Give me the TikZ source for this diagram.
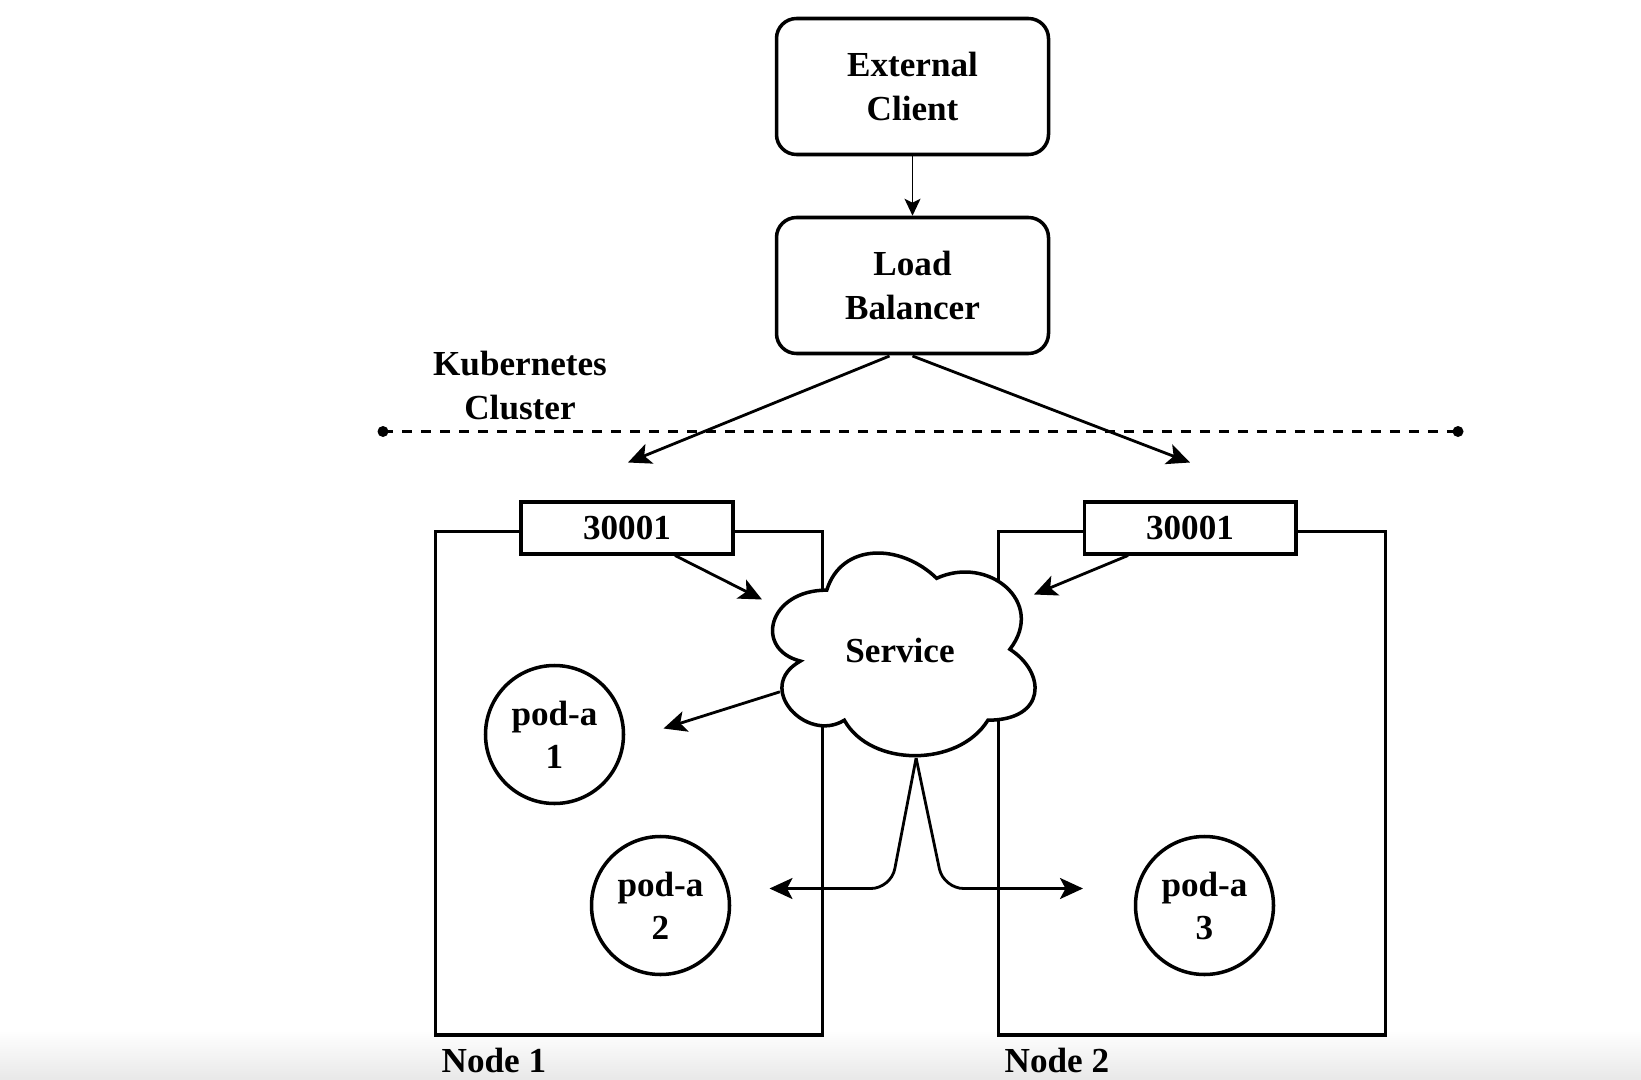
\documentclass[tikz,border=0pt]{standalone}
\usepackage{fontspec}
\setmainfont{Liberation Serif}
\usetikzlibrary{arrows.meta,calc,positioning}

\tikzset{
  box/.style={draw, line width=2pt, rounded corners=0.4cm, minimum width=5.44cm, minimum height=2.72cm, align=center, fill=white},
  port/.style={draw, line width=2pt, minimum width=4.23cm, minimum height=1.03cm, inner sep=0pt, fill=white},
  pod/.style={draw, circle, line width=2pt, minimum size=2.76cm, inner sep=0pt, align=center},
  host/.style={draw, line width=2pt, minimum width=7.74cm, minimum height=10.07cm, anchor=north west},
  flow/.style={line width=1.6pt, -{Stealth[length=0.46cm, width=0.42cm, inset=0.11cm]}},
  thinflow/.style={line width=1pt, -{Stealth[length=0.34cm, width=0.32cm, inset=0.08cm]}},
}

\begin{document}
\begin{tikzpicture}[font=\fontsize{20}{24.5}\selectfont\bfseries]
	\useasboundingbox (0,0) rectangle (32.82,-21.6);
	\shade[top color=white, bottom color=black!9] (0,-20.6) rectangle (32.82,-21.6);

	% outside the cluster
	\node[box] (client) at (18.25,-1.73) {External\\Client};
	\node[box] (lb) at (18.25,-5.71) {Load\\Balancer};
	\draw[thinflow] (client.south) -- (lb.north);

	% cluster border
	\coordinate (borderw) at (7.66,-8.63);
	\coordinate (bordere) at (29.16,-8.63);
	\draw[line width=1.7pt, dash pattern=on 0.2cm off 0.18cm] (borderw) -- (bordere);
	\fill (borderw) circle (0.11) (bordere) circle (0.11);
	\node[align=center] (cluster) at (10.40,-7.71) {Kubernetes\\Cluster};

	% worker nodes
	\node[host] (host1) at (8.67,-10.59) {};
	\node[host] (host2) at (19.93,-10.59) {};
	\node[anchor=west] (host1label) at ($(host1.south west)+(0.04,-0.48)$) {Node 1};
	\node[anchor=west] (host2label) at ($(host2.south west)+(0.04,-0.48)$) {Node 2};

	% service cloud
	\begin{scope}[shift={(15.07,-10.62)}, x=5.86cm, y=-4.73cm]
		\draw[fill=white, line width=2pt] (0.25,0.25)
		.. controls (0.05,0.25) and (0,0.5) .. (0.16,0.55)
		.. controls (0,0.66) and (0.18,0.9) .. (0.31,0.8)
		.. controls (0.4,1) and (0.7,1) .. (0.8,0.8)
		.. controls (1,0.8) and (1,0.6) .. (0.875,0.5)
		.. controls (1,0.3) and (0.8,0.1) .. (0.625,0.2)
		.. controls (0.5,0.05) and (0.3,0.05) .. (0.25,0.25) -- cycle;
		\coordinate (cloudbottom) at (0.555,0.96);
		\coordinate (cloudleft) at (0.09,0.68);
	\end{scope}
	\node (service) at (18.00,-13.00) {Service};

	\node[port] (port1) at (12.54,-10.56) {30001};
	\node[port] (port2) at (23.80,-10.56) {30001};

	\node[pod] (pod1) at (11.09,-14.69) {pod-a\\1};
	\node[pod] (pod2) at (13.21,-18.11) {pod-a\\2};
	\node[pod] (pod3) at (24.09,-18.11) {pod-a\\3};

	% free arrow ends
	\coordinate (lbleft) at (17.79,-7.12);
	\coordinate (lbright) at (18.25,-7.12);
	\coordinate (in1) at (12.56,-9.25);
	\coordinate (in2) at (23.80,-9.25);
	\coordinate (cloudin1) at (15.24,-11.99);
	\coordinate (cloudin2) at (20.68,-11.89);
	\coordinate (to1) at (13.27,-14.57);
	\coordinate (to2) at (15.39,-17.77);
	\coordinate (to3) at (21.66,-17.77);

	\draw[flow] (lbleft) -- (in1);
	\draw[flow] (lbright) -- (in2);
	\draw[flow] ($(port1.south)+(0.96,0)$) -- (cloudin1);
	\draw[flow] ($(port2.south)+(-1.24,0)$) -- (cloudin2);
	\draw[flow] (cloudleft) -- (to1);
	\draw[flow, rounded corners=0.4cm] (cloudbottom) -- (17.82,-17.77) -- (to2);
	\draw[flow, rounded corners=0.4cm] (cloudbottom) -- (18.87,-17.77) -- (to3);
\end{tikzpicture}
\end{document}
